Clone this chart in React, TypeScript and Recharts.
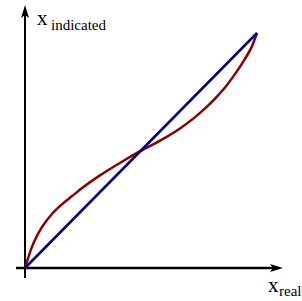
import React from 'react';
import { LineChart, Line, XAxis, YAxis, ReferenceLine, ReferenceDot } from 'recharts';

// red curve: indicated value vs real value (normalised 0..1)
const realValues = [0, 0.03, 0.052, 0.073, 0.116, 0.159, 0.203, 0.246, 0.323, 0.409, 0.496, 0.582, 0.668, 0.733, 0.776, 0.819, 0.862, 0.905, 0.948, 0.977, 1];
const indicatedValues = [0, 0.09, 0.138, 0.174, 0.23, 0.271, 0.306, 0.34, 0.394, 0.447, 0.497, 0.542, 0.594, 0.642, 0.679, 0.721, 0.768, 0.825, 0.89, 0.941, 1];

// blue ideal line
const idealReal = [0, 1];
const idealIndicated = [0, 1];

const curveData = realValues.map((x, i) => ({ x, y: indicatedValues[i] }));
const idealData = idealReal.map((x, i) => ({ x, y: idealIndicated[i] }));

const W = 302;
const H = 301;
const X_DOMAIN: [number, number] = [-25 / 232, 277 / 232];
const Y_DOMAIN: [number, number] = [268 / 235 - 301 / 235, 268 / 235];

const X_AXIS_FROM = -9 / 232;
const X_AXIS_TO = 258 / 232;
const Y_AXIS_FROM = -10 / 235;
const Y_AXIS_TO = 263 / 235;

const serif = "'Liberation Serif', 'Times New Roman', Times, serif";
const txt = { fontFamily: serif, fill: '#000' };

const ArrowRight = (props: any) => {
  const { cx, cy } = props;
  return (
    <g>
      <polygon points={`${cx},${cy} ${cx - 13},${cy - 4} ${cx - 10},${cy} ${cx - 13},${cy + 4}`} fill="#000" />
      <text x={cx - 15} y={cy + 24} style={{ ...txt, fontSize: 21 }}>x</text>
      <text x={cx - 4} y={cy + 28} style={{ ...txt, fontSize: 15 }}>real</text>
    </g>
  );
};

const ArrowUp = (props: any) => {
  const { cx, cy } = props;
  return (
    <g>
      <polygon points={`${cx},${cy} ${cx - 4},${cy + 13} ${cx},${cy + 10} ${cx + 4},${cy + 13}`} fill="#000" />
      <text x={cx + 12} y={cy + 20} style={{ ...txt, fontSize: 21 }}>x</text>
      <text x={cx + 26} y={cy + 25} style={{ ...txt, fontSize: 15 }}>indicated</text>
    </g>
  );
};

export default function App() {
  return (
    <div style={{ position: 'absolute', left: 0, top: 0, background: '#fff' }}>
      <LineChart width={W} height={H} margin={{ top: 0, right: 0, bottom: 0, left: 0 }}>
        <XAxis type="number" dataKey="x" domain={X_DOMAIN} allowDataOverflow hide />
        <YAxis type="number" dataKey="y" domain={Y_DOMAIN} allowDataOverflow hide />
        <ReferenceLine
          segment={[{ x: X_AXIS_FROM, y: 0 }, { x: X_AXIS_TO - 0.03, y: 0 }]}
          stroke="#000"
          strokeWidth={2.5}
          ifOverflow="visible"
        />
        <ReferenceLine
          segment={[{ x: 0, y: Y_AXIS_FROM }, { x: 0, y: Y_AXIS_TO - 0.03 }]}
          stroke="#000"
          strokeWidth={2}
          ifOverflow="visible"
        />
        <ReferenceDot x={X_AXIS_TO} y={0} ifOverflow="visible" shape={ArrowRight} />
        <ReferenceDot x={0} y={Y_AXIS_TO} ifOverflow="visible" shape={ArrowUp} />
        <Line
          data={curveData}
          dataKey="y"
          type="monotone"
          stroke="#8b0000"
          strokeWidth={2.5}
          dot={false}
          activeDot={false}
          isAnimationActive={false}
        />
        <Line
          data={idealData}
          dataKey="y"
          type="linear"
          stroke="#00008b"
          strokeWidth={2.5}
          dot={false}
          activeDot={false}
          isAnimationActive={false}
        />
      </LineChart>
    </div>
  );
}
